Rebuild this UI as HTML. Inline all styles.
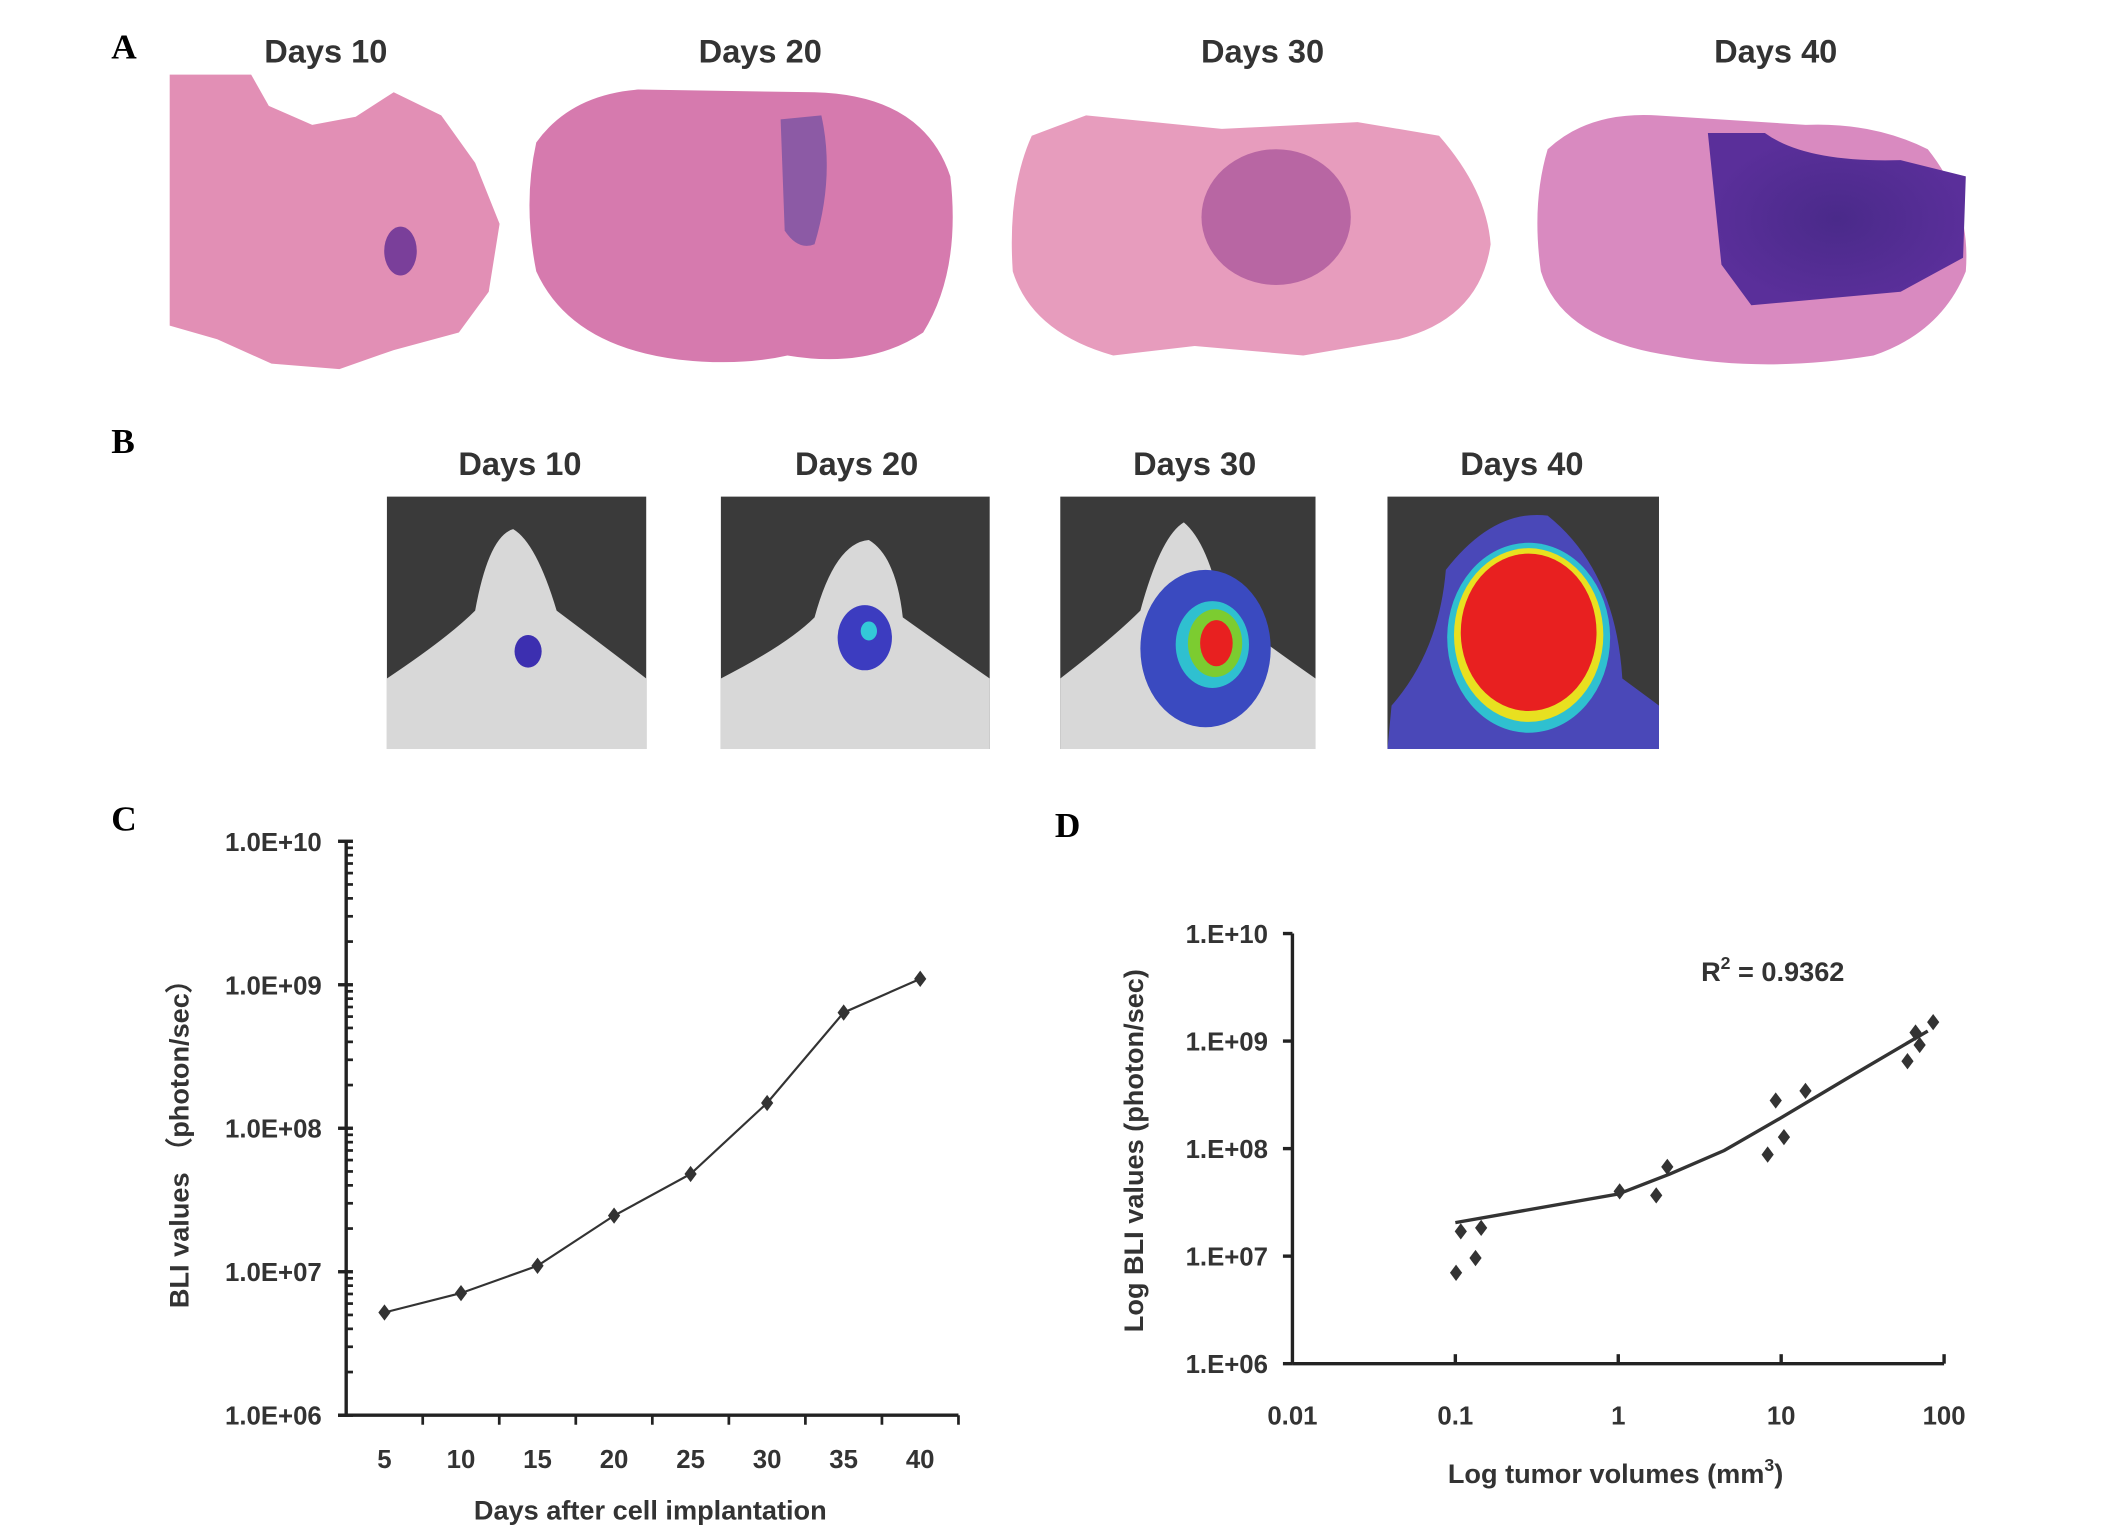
<!DOCTYPE html>
<html><head><meta charset="utf-8"><style>
html,body{margin:0;padding:0;background:#fff;}
svg{display:block;}
text{font-family:"Liberation Sans",Arial,sans-serif;fill:#333;}
.pl{font-family:"Liberation Serif",serif;font-weight:bold;font-size:26px;fill:#000;}
.tt{font-weight:bold;font-size:24px;text-anchor:middle;}
.tk{font-weight:bold;font-size:19px;}
.ax{font-weight:bold;font-size:20px;}
</style></head><body>
<svg id="fig" width="2126" height="1536" viewBox="0 0 1566 1132" preserveAspectRatio="none" xmlns="http://www.w3.org/2000/svg">
<defs>
<radialGradient id="tum40" cx="50%" cy="50%" r="50%"><stop offset="0" stop-color="#4a2a8a"/><stop offset="1" stop-color="#5a2f9a"/></radialGradient>
</defs>
<g>
<text class="pl" x="82" y="43">A</text>
<text class="tt" x="240" y="46">Days 10</text>
<text class="tt" x="560" y="46">Days 20</text>
<text class="tt" x="930" y="46">Days 30</text>
<text class="tt" x="1308" y="46">Days 40</text>
<path d="M125,55 L185,55 L198,78 L230,92 L262,86 L290,68 L325,85 L350,120 L368,165 L360,215 L338,245 L290,258 L250,272 L200,268 L160,250 L125,240 Z" fill="#e28fb5"/>
<ellipse cx="295" cy="185" rx="12" ry="18" fill="#7a3f9a"/>
<path d="M395,105 Q420,70 470,66 L600,68 Q680,70 700,130 Q708,200 680,245 Q640,272 580,262 Q545,270 500,265 Q420,255 395,200 Q385,150 395,105 Z" fill="#d67aae"/>
<path d="M575,88 L605,85 Q615,130 600,180 Q588,185 578,170 Z" fill="#8c5aa5"/>
<path d="M760,100 L800,85 L900,95 L1000,90 L1060,100 Q1095,140 1098,180 Q1090,235 1030,250 L960,262 L880,255 L820,262 Q760,245 746,200 Q742,140 760,100 Z" fill="#e79cbd"/>
<ellipse cx="940" cy="160" rx="55" ry="50" fill="#b866a3"/>
<path d="M1140,110 Q1170,82 1220,85 L1330,92 Q1380,90 1420,110 Q1452,150 1448,200 Q1430,245 1380,262 Q1300,275 1230,262 Q1150,250 1135,200 Q1128,150 1140,110 Z" fill="#d98ac0"/>
<path d="M1258,98 L1300,98 Q1330,120 1400,118 L1448,130 L1446,190 L1400,215 L1290,225 L1268,195 Z" fill="url(#tum40)"/>
</g>
<g>
<text class="pl" x="82" y="334">B</text>
<text class="tt" x="383" y="350">Days 10</text>
<text class="tt" x="631" y="350">Days 20</text>
<text class="tt" x="880" y="350">Days 30</text>
<text class="tt" x="1121" y="350">Days 40</text>
<g>
<rect x="285" y="366" width="191" height="186" fill="#3a3a3a"/>
<path d="M285,552 L285,500 Q330,470 350,450 Q360,395 378,390 Q395,400 410,450 Q450,480 476,500 L476,552 Z" fill="#d8d8d8"/>
<ellipse cx="389" cy="480" rx="10" ry="12" fill="#3c2fb0"/></g>
<g>
<rect x="531" y="366" width="198" height="186" fill="#3a3a3a"/>
<path d="M531,552 L531,500 Q580,475 600,455 Q615,400 640,398 Q660,410 665,455 Q700,480 729,500 L729,552 Z" fill="#d8d8d8"/>
<ellipse cx="637" cy="470" rx="20" ry="24" fill="#3c3cc0"/><ellipse cx="640" cy="465" rx="6" ry="7" fill="#33c8d8"/></g>
<g>
<rect x="781" y="366" width="188" height="186" fill="#3a3a3a"/>
<path d="M781,552 L781,500 Q820,470 840,450 Q855,395 872,385 Q890,400 900,450 Q940,480 969,500 L969,552 Z" fill="#d8d8d8"/>
<ellipse cx="888" cy="478" rx="48" ry="58" fill="#3a4ac0"/><ellipse cx="893" cy="475" rx="27" ry="32" fill="#2fc0d0"/><ellipse cx="895" cy="474" rx="20" ry="25" fill="#7ccc30"/><ellipse cx="896" cy="474" rx="12" ry="17" fill="#e82020"/></g>
<g>
<rect x="1022" y="366" width="200" height="186" fill="#3a3a3a"/>
<path d="M1022,552 L1025,520 Q1060,480 1065,420 Q1100,375 1140,380 Q1190,420 1195,500 L1222,520 L1222,552 Z" fill="#4a48b8"/>
<ellipse cx="1126" cy="470" rx="60" ry="70" fill="#2fc0d0"/><ellipse cx="1126" cy="468" rx="55" ry="64" fill="#e8e020"/><ellipse cx="1126" cy="466" rx="50" ry="58" fill="#e82020"/></g>
</g>
<text class="pl" x="82" y="612">C</text>
<text class="pl" x="777" y="617">D</text>
<g id="chartC"></g>
<g id="chartD"></g>
</svg>
<script>
const cDays = [5, 10, 15, 20, 25, 30, 35, 40];
const cValues = [5.2e6, 7.1e6, 1.1e7, 2.46e7, 4.8e7, 1.5e8, 6.4e8, 1.1e9];
const cYTicks = ["1.0E+06", "1.0E+07", "1.0E+08", "1.0E+09", "1.0E+10"];
const dVolumes = [0.101, 0.108, 0.144, 0.133, 1.02, 1.71, 2.0, 8.26, 9.26, 10.4, 14.1, 59.6, 66.8, 70.8, 85.7];
const dValues = [7.0e6, 1.7e7, 1.83e7, 9.6e6, 4.0e7, 3.67e7, 6.76e7, 8.8e7, 2.8e8, 1.28e8, 3.44e8, 6.5e8, 1.2e9, 9.2e8, 1.5e9];
const dTrendX = [0.1, 1.0, 2.07, 4.47, 9.6, 25.1, 79.4];
const dTrendY = [2.05e7, 3.78e7, 5.8e7, 9.6e7, 1.87e8, 4.45e8, 1.24e9];
const dXTicks = ["0.01", "0.1", "1", "10", "100"];
const dYTicks = ["1.E+06", "1.E+07", "1.E+08", "1.E+09", "1.E+10"];

const NS = "http://www.w3.org/2000/svg";
function mk(parent, tag, attrs, txt) {
  const e = document.createElementNS(NS, tag);
  for (const k in attrs) e.setAttribute(k, attrs[k]);
  if (txt !== undefined) e.textContent = txt;
  parent.appendChild(e);
  return e;
}
function diamond(x, y, r) { return `M${x},${y-r} L${x+r*0.75},${y} L${x},${y+r} L${x-r*0.75},${y} Z`; }

(function () {
  const g = document.getElementById("chartC");
  const x0 = 255, x1 = 706, yTop = 620, yBot = 1043;
  const band = (x1 - x0) / cDays.length;
  const xs = i => x0 + band * (i + 0.5);
  const ys = v => yBot - (Math.log10(v) - 6) / 4 * (yBot - yTop);
  let e;
  e = mk(g, "line", {x1: x0, y1: yTop, x2: x0, y2: yBot, stroke: "#222", "stroke-width": 2.5});
  
  
  e = mk(g, "line", {x1: x0 - 6, y1: yBot, x2: x1, y2: yBot, stroke: "#222", "stroke-width": 2.5});
  
  
  for (let d = 6; d <= 10; d++) {
    const y = ys(Math.pow(10, d));
    mk(g, "line", {x1: x0 - 6, y1: y, x2: x0 + 5, y2: y, stroke: "#222", "stroke-width": 2.5});
    e = mk(g, "text", {x: x0 - 18, y: y + 7, "text-anchor": "end", class: "tk"}, cYTicks[d - 6]);
    
    
    if (d < 10) for (let m = 2; m < 10; m++) {
      const ym = ys(m * Math.pow(10, d));
      mk(g, "line", {x1: x0, y1: ym, x2: x0 + 5, y2: ym, stroke: "#222", "stroke-width": 2});
    }
  }
  for (let i = 1; i <= cDays.length; i++) {
    const x = x0 + band * i;
    mk(g, "line", {x1: x, y1: yBot, x2: x, y2: yBot + 7, stroke: "#222", "stroke-width": 2});
  }
  cDays.forEach((d, i) => {
    e = mk(g, "text", {x: xs(i), y: yBot + 39, "text-anchor": "middle", class: "tk"}, d);
    
    
  });
  e = mk(g, "polyline", {points: cValues.map((v, i) => xs(i) + "," + ys(v)).join(" "), fill: "none", stroke: "#333", "stroke-width": 1.6});
  
  
  cValues.forEach((v, i) => {
    e = mk(g, "path", {d: diamond(xs(i), ys(v), 6), fill: "#333"});
    
    
  });
  e = mk(g, "text", {x: 479, y: 1120, "text-anchor": "middle", class: "ax"}, "Days after cell implantation");
  
  
  e = mk(g, "text", {x: 0, y: 0, "text-anchor": "middle", class: "ax", transform: "translate(139,838) rotate(-90)"}, "BLI values （photon/sec）");
  
  
})();

(function () {
  const g = document.getElementById("chartD");
  const x0 = 952, x1 = 1432, yTop = 688, yBot = 1005;
  const xs = v => x0 + (Math.log10(v) + 2) / 4 * (x1 - x0);
  const ys = v => yBot - (Math.log10(v) - 6) / 4 * (yBot - yTop);
  let e;
  e = mk(g, "line", {x1: x0, y1: yTop, x2: x0, y2: yBot, stroke: "#222", "stroke-width": 2.5});
  
  
  e = mk(g, "line", {x1: x0, y1: yBot, x2: x1, y2: yBot, stroke: "#222", "stroke-width": 2.5});
  
  
  for (let d = 0; d <= 4; d++) {
    const y = ys(Math.pow(10, 6 + d));
    mk(g, "line", {x1: x0 - 7, y1: y, x2: x0, y2: y, stroke: "#222", "stroke-width": 2.5});
    e = mk(g, "text", {x: x0 - 18, y: y + 7, "text-anchor": "end", class: "tk"}, dYTicks[d]);
    
    
    const x = xs(Math.pow(10, d - 2));
    if (d > 0) mk(g, "line", {x1: x, y1: yBot, x2: x, y2: yBot - 7, stroke: "#222", "stroke-width": 2.5});
    e = mk(g, "text", {x: x, y: yBot + 45, "text-anchor": "middle", class: "tk"}, dXTicks[d]);
    
    
  }
  e = mk(g, "polyline", {points: dTrendX.map((v, i) => xs(v) + "," + ys(dTrendY[i])).join(" "), fill: "none", stroke: "#333", "stroke-width": 2.5});
  
  
  dVolumes.forEach((v, i) => {
    e = mk(g, "path", {d: diamond(xs(v), ys(dValues[i]), 6), fill: "#333"});
    
    
  });
  e = mk(g, "text", {x: 1253, y: 723, class: "ax"});
  
  
  e.innerHTML = 'R<tspan dy="-9" font-size="13">2</tspan><tspan dy="9"> = 0.9362</tspan>';
  e = mk(g, "text", {x: 1190, y: 1093, "text-anchor": "middle", class: "ax"});
  
  
  e.innerHTML = 'Log tumor volumes (mm<tspan dy="-9" font-size="13">3</tspan><tspan dy="9">)</tspan>';
  e = mk(g, "text", {x: 0, y: 0, "text-anchor": "middle", class: "ax", transform: "translate(842,848) rotate(-90)"}, "Log BLI values (photon/sec)");
  
  
})();
</script>
</body></html>
